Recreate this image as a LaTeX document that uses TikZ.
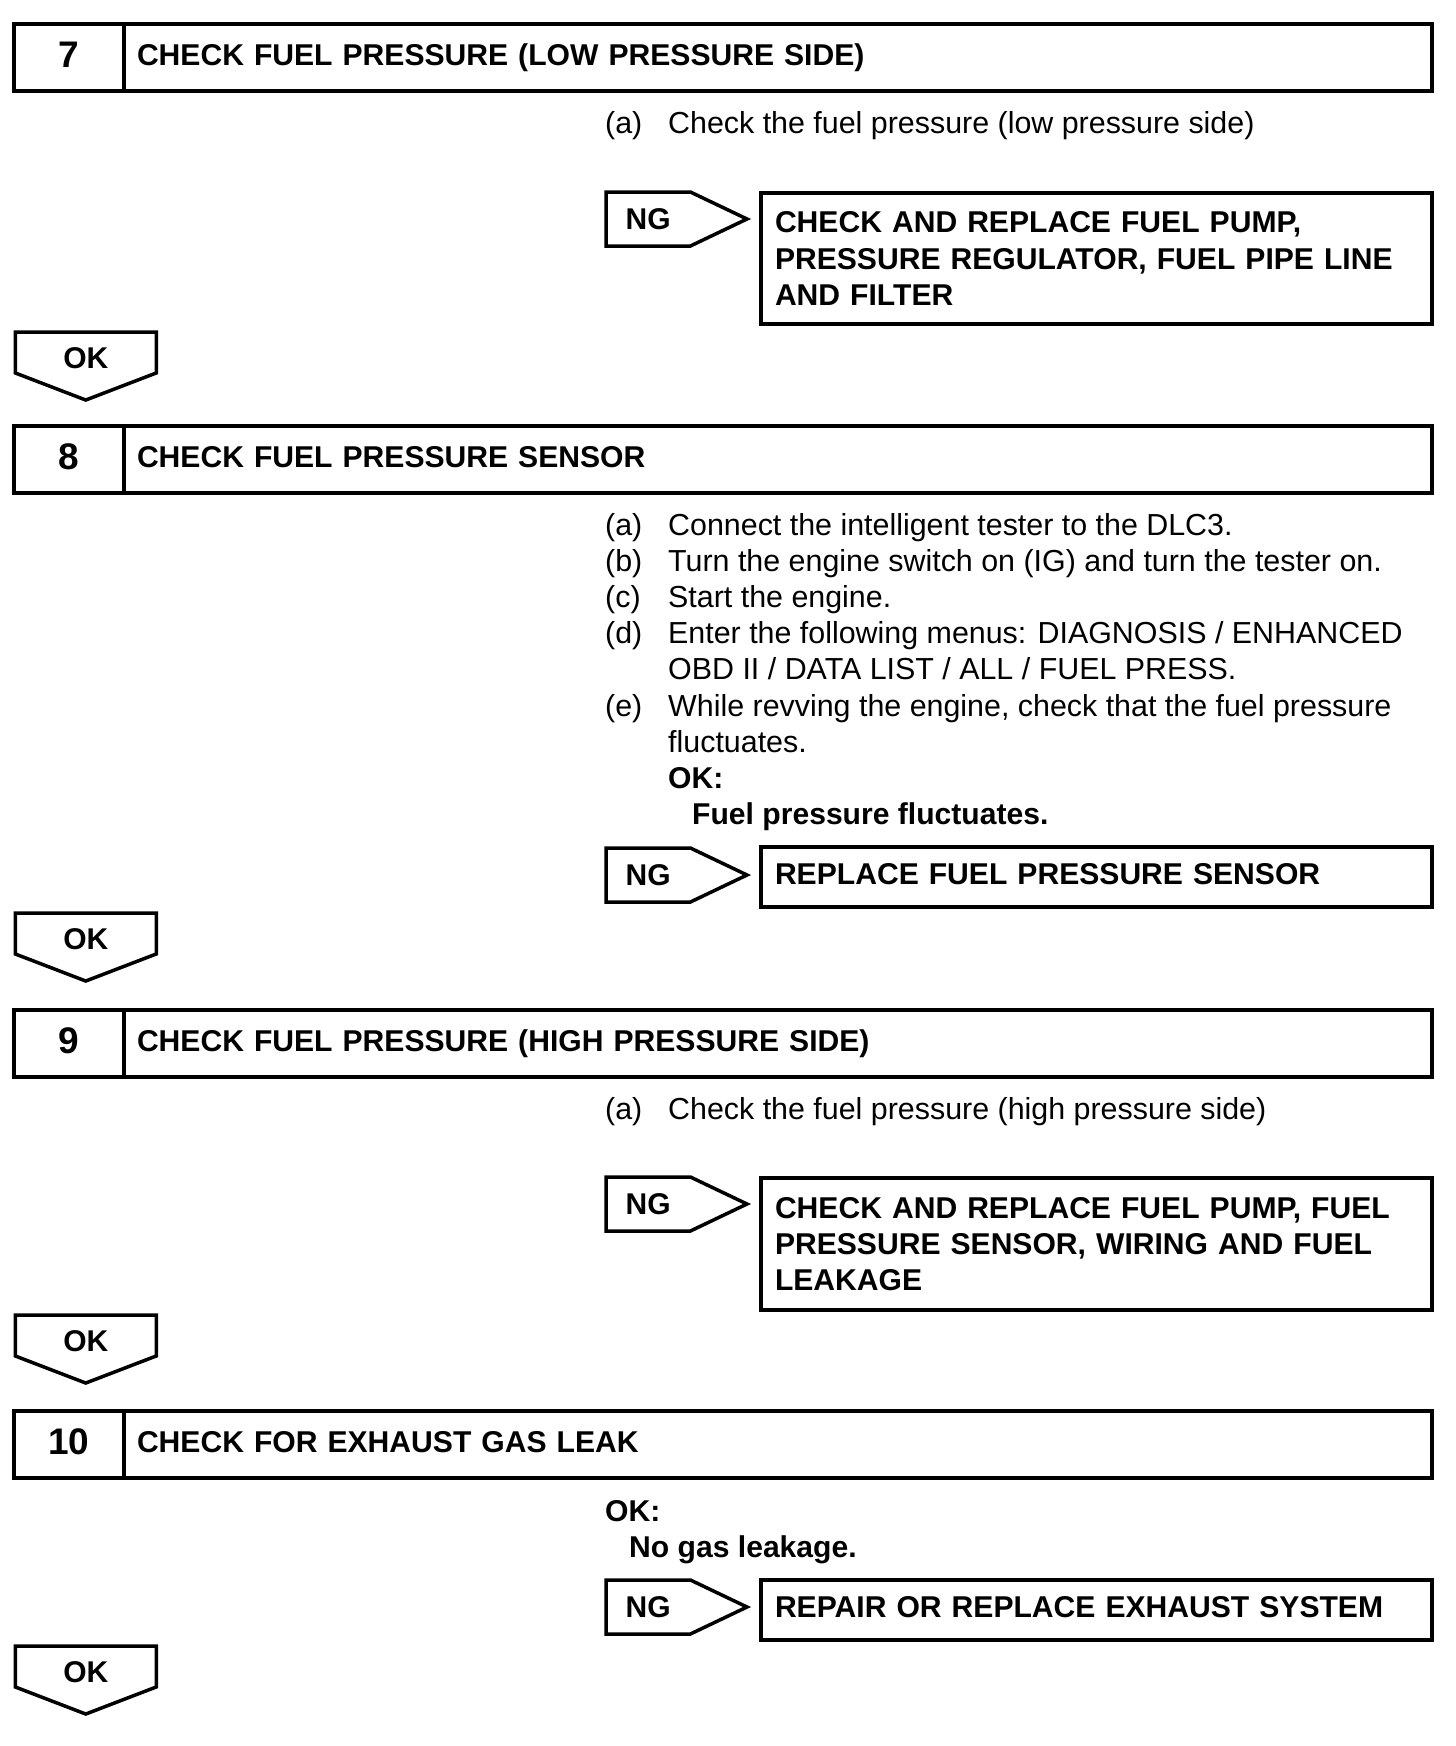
\documentclass[tikz,border=0pt]{standalone}
\usepackage{fontspec}
\setmainfont{Liberation Sans}
\usetikzlibrary{positioning, shapes.symbols}

\begin{document}
\begin{tikzpicture}[x=1pt, y=-1pt,
  stepnum/.style={draw, line width=4.5pt, outer sep=0pt, inner sep=0pt,
    minimum width=110pt, minimum height=67pt, text height=27pt, text depth=8pt,
    font=\bfseries\fontsize{37}{40}\selectfont},
  steptitle/.style={draw, line width=4.5pt, outer sep=0pt, inner xsep=13pt, inner ysep=0pt,
    minimum height=67pt, text width=1282pt, align=left, text height=22pt, text depth=6pt,
    font=\bfseries\fontsize{30.1}{36}\selectfont},
  ngtag/.style={shape=signal, signal to=east, signal pointer angle=51, draw, line width=3.5pt,
    outer sep=0pt, inner sep=0pt, minimum width=141pt, minimum height=54pt,
    text height=21.5pt, text depth=0pt, font=\bfseries\fontsize{30}{32}\selectfont},
  okarrow/.style={shape=signal, signal to=south, signal pointer angle=138, draw, line width=3.5pt,
    outer sep=0pt, inner sep=0pt, minimum width=141pt, minimum height=49.6pt,
    text height=32pt, text depth=0pt, font=\bfseries\fontsize{30}{32}\selectfont},
  remedy/.style={draw, line width=3.5pt, outer sep=0pt, inner xsep=14pt, inner ysep=0pt,
    text width=643pt, minimum height=60pt, align=left,
    font=\bfseries\fontsize{30.1}{36.2}\selectfont},
  oneline/.style={text height=21.5pt, text depth=6pt},
  body/.style={anchor=base west, inner sep=0pt, font=\fontsize{30.4}{36.2}\selectfont},
  bodybold/.style={body, font=\bfseries\fontsize{30.1}{36.2}\selectfont}]

  \useasboundingbox (0,0) rectangle (1456,1746);

  % --- step 7 ---
  \node[stepnum, anchor=north west] (n7) at (14,24) {7};
  \node[steptitle, right=0pt of n7] (t7) {CHECK FUEL PRESSURE (LOW PRESSURE SIDE)};
  \node[body] (l7a) at (605,133) {(a)};
  \node[body] (x7a) at (668,133) {Check the fuel pressure (low pressure side)};
  \node[ngtag, anchor=west] (ng7) at (606,219) {NG};
  \node[remedy, anchor=north west, minimum height=131pt] (r7) at (761,193)
    {CHECK AND REPLACE FUEL PUMP,\\PRESSURE REGULATOR, FUEL PIPE LINE\\AND FILTER};
  \node[okarrow, anchor=north] (ok7) at (85.75,332) {OK};

  % --- step 8 ---
  \node[stepnum, anchor=north west] (n8) at (14,426) {8};
  \node[steptitle, right=0pt of n8] (t8) {CHECK FUEL PRESSURE SENSOR};
  \node[body] (l8a) at (605,535) {(a)};
  \node[body] (x8a) at (668,535) {Connect the intelligent tester to the DLC3.};
  \node[body] (l8b) at (605,571.2) {(b)};
  \node[body] (x8b) at (668,571.2) {Turn the engine switch on (IG) and turn the tester on.};
  \node[body] (l8c) at (605,607.4) {(c)};
  \node[body] (x8c) at (668,607.4) {Start the engine.};
  \node[body] (l8d) at (605,643.6) {(d)};
  \node[body] (x8d) at (668,643.6) {Enter the following menus: DIAGNOSIS / ENHANCED};
  \node[body] (y8d) at (668,679.8) {OBD II / DATA LIST / ALL / FUEL PRESS.};
  \node[body] (l8e) at (605,716) {(e)};
  \node[body] (x8e) at (668,716) {While revving the engine, check that the fuel pressure};
  \node[body] (y8e) at (668,752.2) {fluctuates.};
  \node[bodybold] (k8) at (668,788.4) {OK:};
  \node[bodybold] (s8) at (692,824.6) {Fuel pressure fluctuates.};
  \node[ngtag, anchor=west] (ng8) at (606,875) {NG};
  \node[remedy, oneline, anchor=north west] (r8) at (761,847) {REPLACE FUEL PRESSURE SENSOR};
  \node[okarrow, anchor=north] (ok8) at (85.75,913) {OK};

  % --- step 9 ---
  \node[stepnum, anchor=north west] (n9) at (14,1010) {9};
  \node[steptitle, right=0pt of n9] (t9) {CHECK FUEL PRESSURE (HIGH PRESSURE SIDE)};
  \node[body] (l9a) at (605,1119) {(a)};
  \node[body] (x9a) at (668,1119) {Check the fuel pressure (high pressure side)};
  \node[ngtag, anchor=west] (ng9) at (606,1204) {NG};
  \node[remedy, anchor=north west, minimum height=132pt] (r9) at (761,1178)
    {CHECK AND REPLACE FUEL PUMP, FUEL\\PRESSURE SENSOR, WIRING AND FUEL\\LEAKAGE};
  \node[okarrow, anchor=north] (ok9) at (85.75,1315) {OK};

  % --- step 10 ---
  \node[stepnum, anchor=north west] (n10) at (14,1411) {10};
  \node[steptitle, right=0pt of n10] (t10) {CHECK FOR EXHAUST GAS LEAK};
  \node[bodybold] (k10) at (605,1521.7) {OK:};
  \node[bodybold] (s10) at (629,1557) {No gas leakage.};
  \node[ngtag, anchor=west] (ng10) at (606,1607) {NG};
  \node[remedy, oneline, anchor=north west] (r10) at (761,1580) {REPAIR OR REPLACE EXHAUST SYSTEM};
  \node[okarrow, anchor=north] (ok10) at (85.75,1646) {OK};

\end{tikzpicture}
\end{document}
